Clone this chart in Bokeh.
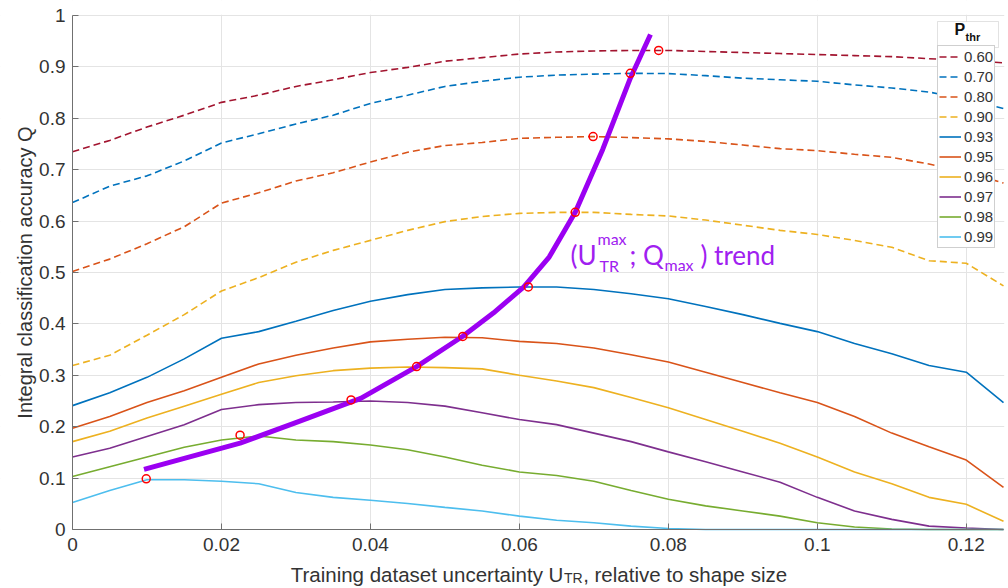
from bokeh.plotting import figure
from bokeh.models import (Range1d, FixedTicker, NumeralTickFormatter, Legend, LegendItem,
                          Label, BoxAnnotation)
from bokeh.embed import file_html
from bokeh.resources import INLINE

# ---------------- data ----------------
u_tr = [0.000, 0.005, 0.010, 0.015, 0.020, 0.025, 0.030, 0.035, 0.040, 0.045,
        0.050, 0.055, 0.060, 0.065, 0.070, 0.075, 0.080, 0.085, 0.090, 0.095,
        0.100, 0.105, 0.110, 0.115, 0.120, 0.125]

q_060 = [0.735, 0.757, 0.783, 0.806, 0.831, 0.845, 0.862, 0.875, 0.889, 0.899,
         0.911, 0.918, 0.925, 0.929, 0.931, 0.932, 0.932, 0.930, 0.928, 0.926,
         0.924, 0.922, 0.920, 0.916, 0.913, 0.908]
q_070 = [0.636, 0.668, 0.688, 0.717, 0.752, 0.770, 0.789, 0.806, 0.829, 0.845,
         0.862, 0.872, 0.880, 0.884, 0.886, 0.8875, 0.887, 0.883, 0.878, 0.875,
         0.872, 0.865, 0.859, 0.851, 0.8375, 0.819]
q_080 = [0.502, 0.526, 0.556, 0.589, 0.635, 0.655, 0.678, 0.694, 0.715, 0.734,
         0.747, 0.753, 0.761, 0.763, 0.7645, 0.7625, 0.760, 0.755, 0.748, 0.741,
         0.737, 0.730, 0.724, 0.711, 0.695, 0.674]
q_090 = [0.319, 0.339, 0.378, 0.418, 0.464, 0.490, 0.520, 0.543, 0.5625, 0.582,
         0.599, 0.609, 0.615, 0.617, 0.617, 0.613, 0.610, 0.602, 0.592, 0.582,
         0.574, 0.5625, 0.549, 0.523, 0.518, 0.474]
q_093 = [0.241, 0.266, 0.296, 0.332, 0.372, 0.385, 0.405, 0.426, 0.444, 0.457,
         0.467, 0.470, 0.4717, 0.4717, 0.467, 0.4586, 0.449, 0.434, 0.418, 0.401,
         0.385, 0.362, 0.342, 0.319, 0.306, 0.247]
q_095 = [0.197, 0.220, 0.247, 0.270, 0.296, 0.322, 0.339, 0.353, 0.365, 0.370,
         0.374, 0.373, 0.366, 0.362, 0.353, 0.340, 0.326, 0.306, 0.286, 0.266,
         0.247, 0.220, 0.1875, 0.161, 0.135, 0.082]
q_096 = [0.171, 0.191, 0.217, 0.240, 0.263, 0.286, 0.299, 0.309, 0.314, 0.316,
         0.315, 0.3125, 0.300, 0.289, 0.276, 0.257, 0.237, 0.214, 0.191, 0.168,
         0.141, 0.112, 0.089, 0.0625, 0.049, 0.016]
q_097 = [0.141, 0.158, 0.181, 0.204, 0.2336, 0.243, 0.247, 0.248, 0.250, 0.247,
         0.240, 0.227, 0.214, 0.204, 0.1875, 0.171, 0.151, 0.132, 0.112, 0.092,
         0.0625, 0.036, 0.0197, 0.0066, 0.003, 0.0]
q_098 = [0.103, 0.122, 0.141, 0.160, 0.174, 0.182, 0.174, 0.171, 0.1645, 0.155,
         0.141, 0.125, 0.112, 0.105, 0.094, 0.0757, 0.059, 0.046, 0.036, 0.026,
         0.013, 0.005, 0.001, 0.0, 0.0, 0.0]
q_099 = [0.0526, 0.0757, 0.0967, 0.0967, 0.094, 0.089, 0.072, 0.0625, 0.057, 0.0507,
         0.043, 0.036, 0.026, 0.018, 0.013, 0.0066, 0.002, 0.0, 0.0, 0.0,
         0.0, 0.0, 0.0, 0.0, 0.0, 0.0]

p_thr_labels = ["0.60", "0.70", "0.80", "0.90", "0.93", "0.95", "0.96", "0.97", "0.98", "0.99"]
series = [q_060, q_070, q_080, q_090, q_093, q_095, q_096, q_097, q_098, q_099]
colors = ["#A2142F", "#0072BD", "#D95319", "#EDB120", "#0072BD",
          "#D95319", "#EDB120", "#7E2F8E", "#77AC30", "#4DBEEE"]
dashed = [True, True, True, True, False, False, False, False, False, False]

# maxima of each curve
qmax_x = [0.0787, 0.0749, 0.0699, 0.0675, 0.0612, 0.0524, 0.0462, 0.0374, 0.0225, 0.0099]
qmax_y = [0.932, 0.8875, 0.7645, 0.617, 0.472, 0.3757, 0.317, 0.252, 0.1836, 0.0987]

# trend through the maxima
trend_x = [0.0096, 0.0225, 0.0298, 0.0387, 0.0462, 0.0524, 0.0565, 0.0606,
           0.0640, 0.0675, 0.0712, 0.0749, 0.0776]
trend_y = [0.117, 0.168, 0.207, 0.255, 0.317, 0.376, 0.421, 0.472,
           0.530, 0.617, 0.740, 0.878, 0.963]

x_ticks = [0, 0.02, 0.04, 0.06, 0.08, 0.1, 0.12]
y_ticks = [0, 0.1, 0.2, 0.3, 0.4, 0.5, 0.6, 0.7, 0.8, 0.9, 1]

# ---------------- figure ----------------
TXT = "#333333"
AX = "#707070"
PURPLE = "#A020F0"
X_MAX = 0.125
# the frame covers the whole canvas; axes sit at x = 0 and y = 0
X_VIEW = (-0.009667, 0.125671)
Y_VIEW = (-0.11479, 1.02918)

p = figure(width=1008, height=588, output_backend="svg", toolbar_location=None,
           x_range=Range1d(*X_VIEW), y_range=Range1d(*Y_VIEW),
           min_border_left=0, min_border_right=0, min_border_top=0, min_border_bottom=0)
p.outline_line_color = None
p.background_fill_color = "white"

p.xaxis.fixed_location = 0
p.yaxis.fixed_location = 0
p.xaxis.bounds = (0, X_MAX)
p.yaxis.bounds = (0, 1)
p.xaxis.ticker = FixedTicker(ticks=x_ticks)
p.yaxis.ticker = FixedTicker(ticks=y_ticks)
for ax in (p.xaxis[0], p.yaxis[0]):
    ax.formatter = NumeralTickFormatter(format="0.[00]")
    ax.major_label_text_font = "Liberation Sans"
    ax.major_label_text_font_size = "19px"
    ax.major_label_text_color = TXT
    ax.axis_line_color = AX
    ax.major_tick_line_color = AX
    ax.major_tick_in = 6
    ax.major_tick_out = 0
    ax.minor_tick_line_color = None
p.yaxis.major_label_standoff = 7
p.xaxis.major_label_standoff = 9

p.yaxis.axis_label = "Integral classification accuracy Q"
p.yaxis.axis_label_text_font = "Liberation Sans"
p.yaxis.axis_label_text_font_size = "20px"
p.yaxis.axis_label_text_font_style = "normal"
p.yaxis.axis_label_text_color = TXT
p.yaxis.axis_label_standoff = 0

p.grid.grid_line_color = "#e4e4e4"
p.grid.grid_line_width = 1

# white strips hiding the grid outside the axes box
for l, r, t, b in [(-1, 1, 0, -1), (-1, 0, 2, -1), (-1, 1, 2, 1.0015), (X_MAX + 0.0001, 1, 2, -1)]:
    p.add_layout(BoxAnnotation(left=l, right=r, top=t, bottom=b,
                               fill_color="white", fill_alpha=1.0, line_color=None,
                               level="underlay"))

items = []
for lab, q, c, d in zip(p_thr_labels, series, colors, dashed):
    r = p.line(u_tr, q, line_color=c, line_width=1.6,
               line_dash="7 4" if d else "solid")
    items.append(LegendItem(label=lab, renderers=[r]))

p.line(trend_x, trend_y, line_color="#9B00F2", line_width=5, line_join="round")
p.scatter(qmax_x, qmax_y, marker="circle", size=8, fill_color=None,
          line_color="#FF0000", line_width=1.5)

legend = Legend(items=items, location=(937, 340), orientation="vertical",
                label_text_font="Liberation Sans", label_text_font_size="15px",
                label_text_color=TXT, label_height=19, glyph_height=19, glyph_width=22,
                label_standoff=3, spacing=1, padding=1, margin=0,
                border_line_color="#a0a0a0", border_line_width=1,
                background_fill_color="white", background_fill_alpha=1.0)
p.add_layout(legend)

# legend header box  P_thr
p.add_layout(BoxAnnotation(left=0.11614, right=0.12433, top=0.9883, bottom=0.9377,
                           fill_color="white", fill_alpha=1.0,
                           line_color="#a0a0a0", line_width=1))
p.add_layout(Label(x=0.11842, y=0.9726, text="P", text_font="Liberation Sans",
                   text_font_size="16px", text_font_style="bold", text_color="#111111",
                   text_baseline="alphabetic"))
p.add_layout(Label(x=0.1199, y=0.9586, text="thr", text_font="Liberation Sans",
                   text_font_size="11px", text_font_style="bold", text_color="#111111",
                   text_baseline="alphabetic"))

# trend annotation
def ann(x, y, t, size):
    p.add_layout(Label(x=x, y=y, text=t, text_font="Lato", text_font_size=size,
                       text_color=PURPLE, text_baseline="alphabetic", text_align="left"))

ann(0.06686, 0.5331, "(U", "26px")
ann(0.07049, 0.5662, "max", "16px")
ann(0.07076, 0.5136, "TR", "16px")
ann(0.07480, 0.5331, "; Q", "26px")
ann(0.07948, 0.5156, "max", "16px")
ann(0.08432, 0.5331, ") trend", "26px")

# x-axis title with subscript
def xlab(x, y, t, size, align):
    p.add_layout(Label(x=x, y=y, text=t, text_font="Liberation Sans", text_font_size=size,
                       text_color=TXT, text_baseline="alphabetic", text_align=align))

xlab(0.06591, -0.0875, "Training dataset uncertainty U", "20.5px", "right")
xlab(0.06598, -0.0953, "TR", "14px", "left")
xlab(0.06856, -0.0875, ", relative to shape size", "20.5px", "left")

open("out.html", "w").write(file_html(p, INLINE))
